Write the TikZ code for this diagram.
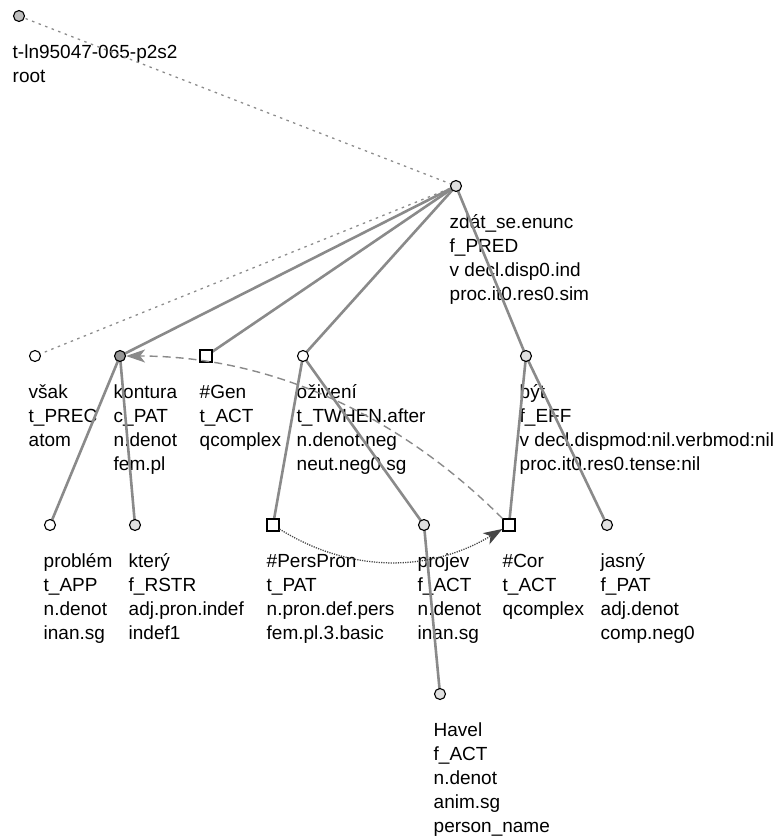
\documentclass[tikz,border=0pt]{standalone}
\usepackage{fontspec}
\setmainfont{Liberation Sans}
\usetikzlibrary{arrows.meta}
\definecolor{edgegray}{RGB}{138,138,138}
\definecolor{linkgray}{RGB}{140,140,140}
\definecolor{dotgray}{RGB}{70,70,70}
\definecolor{nodelight}{RGB}{224,224,224}
\definecolor{nodemid}{RGB}{190,190,190}
\definecolor{nodedark}{RGB}{150,150,150}
\pgfdeclarelayer{labels}
\pgfdeclarelayer{edges}
\pgfsetlayers{labels,edges,main}
\newcommand{\tlines}[1]{\begin{tabular}[t]{@{}l@{}}#1\end{tabular}}
\tikzset{
  tcirc/.style={circle, draw=black, line width=1.1pt, minimum size=11pt, inner sep=0pt, fill=white},
  tsquare/.style={rectangle, draw=black, line width=1.1pt, minimum size=12pt, inner sep=0pt, fill=white},
  tlabel/.style={anchor=base west, inner sep=0pt, font=\fontsize{19}{24}\selectfont},
  tedge/.style={draw=edgegray, line width=2.6pt},
  tlink/.style={draw=linkgray, line width=1.3pt, dash pattern=on 2.5pt off 4.5pt},
  coref/.style={draw=edgegray, line width=1.4pt, dash pattern=on 8pt off 5pt,
    -{Stealth[length=19pt, width=13pt, inset=5pt, fill=edgegray]}},
  gramcoref/.style={draw=dotgray, line width=1.3pt, dash pattern=on 1.2pt off 1.2pt,
    -{Stealth[length=19pt, width=13pt, inset=5pt, fill=dotgray]}}
}
\begin{document}
\begin{tikzpicture}[x=1pt, y=-1pt]
\useasboundingbox (0,0) rectangle (778,836);

% tree nodes
\node[tcirc, fill=nodemid]   (root)     at (19,16)  {};
\node[tcirc, fill=nodelight] (zdat)     at (456,186) {};
\node[tcirc]                 (vsak)     at (35,356)  {};
\node[tcirc, fill=nodedark]  (kontura)  at (120,356) {};
\node[tsquare]               (gen)      at (206,356) {};
\node[tcirc]                 (oziveni)  at (303,356) {};
\node[tcirc, fill=nodelight] (byt)      at (526,356) {};
\node[tcirc]                 (problem)  at (50,525)  {};
\node[tcirc, fill=nodelight] (ktery)    at (135,525) {};
\node[tsquare]               (perspron) at (273,525) {};
\node[tcirc, fill=nodelight] (projev)   at (424,525) {};
\node[tsquare]               (cor)      at (509,525) {};
\node[tcirc, fill=nodelight] (jasny)    at (607,525) {};
\node[tcirc, fill=nodelight] (havel)    at (440,694) {};

% node labels
\begin{pgfonlayer}{labels}
\node[tlabel] (root-l)     at (12.5,58)   {\tlines{t-ln95047-065-p2s2\\root}};
\node[tlabel] (zdat-l)     at (449.5,228) {\tlines{zdát\_se.enunc\\f\_PRED\\v decl.disp0.ind\\proc.it0.res0.sim}};
\node[tlabel] (vsak-l)     at (28.5,398)  {\tlines{však\\t\_PREC\\atom}};
\node[tlabel] (kontura-l)  at (113.5,398) {\tlines{kontura\\c\_PAT\\n.denot\\fem.pl}};
\node[tlabel] (gen-l)      at (199.5,398) {\tlines{\#Gen\\t\_ACT\\qcomplex}};
\node[tlabel] (oziveni-l)  at (296.5,398) {\tlines{oživení\\t\_TWHEN.after\\n.denot.neg\\neut.neg0.sg}};
\node[tlabel] (byt-l)      at (519.5,398) {\tlines{být\\f\_EFF\\v decl.dispmod:nil.verbmod:nil\\proc.it0.res0.tense:nil}};
\node[tlabel] (problem-l)  at (43.5,567)  {\tlines{problém\\t\_APP\\n.denot\\inan.sg}};
\node[tlabel] (ktery-l)    at (128.5,567) {\tlines{který\\f\_RSTR\\adj.pron.indef\\indef1}};
\node[tlabel] (perspron-l) at (266.5,567) {\tlines{\#PersPron\\t\_PAT\\n.pron.def.pers\\fem.pl.3.basic}};
\node[tlabel] (projev-l)   at (417.5,567) {\tlines{projev\\f\_ACT\\n.denot\\inan.sg}};
\node[tlabel] (cor-l)      at (502.5,567) {\tlines{\#Cor\\t\_ACT\\qcomplex}};
\node[tlabel] (jasny-l)    at (600.5,567) {\tlines{jasný\\f\_PAT\\adj.denot\\comp.neg0}};
\node[tlabel] (havel-l)    at (433.5,736) {\tlines{Havel\\f\_ACT\\n.denot\\anim.sg\\person\_name}};
\end{pgfonlayer}

% dependency edges
\begin{pgfonlayer}{edges}
\draw[tlink] (root.center) -- (zdat.center);
\draw[tlink] (zdat.center) -- (vsak.center);
\draw[tedge] (zdat.center) -- (kontura.center);
\draw[tedge] (zdat.center) -- (gen.center);
\draw[tedge] (zdat.center) -- (oziveni.center);
\draw[tedge] (zdat.center) -- (byt.center);
\draw[tedge] (kontura.center) -- (problem.center);
\draw[tedge] (kontura.center) -- (ktery.center);
\draw[tedge] (oziveni.center) -- (perspron.center);
\draw[tedge] (oziveni.center) -- (projev.center);
\draw[tedge] (byt.center) -- (cor.center);
\draw[tedge] (byt.center) -- (jasny.center);
\draw[tedge] (projev.center) -- (havel.center);
\end{pgfonlayer}

% coreference arrows
\draw[coref] (cor) .. controls (396,412) and (267,356) .. (kontura);
\draw[gramcoref] (perspron) .. controls (350,573) and (429,573) .. (cor);
\end{tikzpicture}
\end{document}
